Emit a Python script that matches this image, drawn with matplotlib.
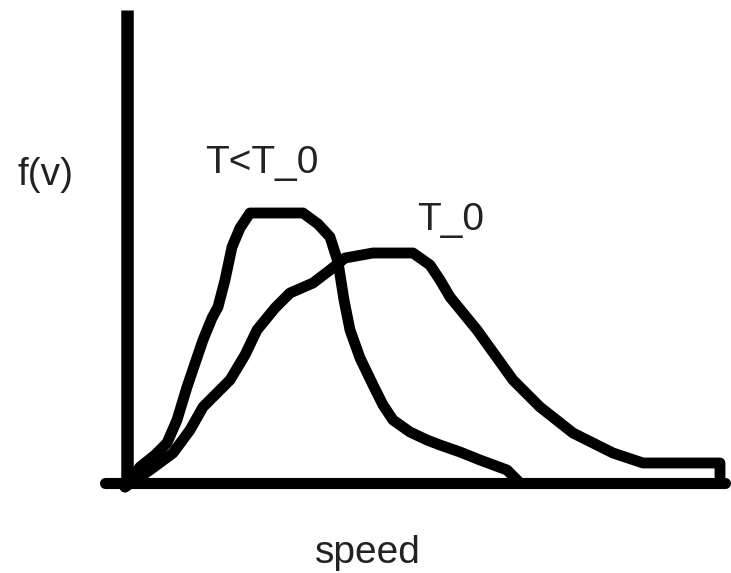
import matplotlib
matplotlib.use("Agg")
import matplotlib.pyplot as plt

# hand-drawn sketch, coordinates in picture units (y grows downwards)
axis_v_x = [127, 127]
axis_v_y = [10, 487]
axis_h_x = [105, 725]
axis_h_y = [483, 483]

# T < T_0 curve
cold_v = [125, 140, 155, 167, 177, 187, 203, 212, 218, 225, 232, 240, 250,
          303, 318, 330, 338, 344, 350, 360, 373, 383, 393, 410, 427, 440,
          460, 480, 507, 520]
cold_f = [487, 467, 455, 443, 420, 387, 340, 318, 307, 280, 247, 228, 213,
          213, 224, 237, 262, 300, 330, 358, 385, 405, 420, 432, 440, 445,
          452, 460, 470, 483]

# T_0 curve
warm_v = [125, 150, 173, 190, 203, 230, 245, 257, 275, 290, 313, 330, 345,
          373, 413, 430, 440, 450, 477, 513, 540, 573, 613, 643, 720, 720]
warm_f = [487, 470, 453, 430, 407, 380, 355, 330, 308, 293, 283, 270, 258,
          253, 253, 265, 280, 297, 330, 380, 407, 433, 453, 463, 463, 477]

fig = plt.figure(figsize=(7.31, 5.73), dpi=100)
ax = fig.add_axes([0, 0, 1, 1])
ax.set_xlim(0, 731)
ax.set_ylim(573, 0)
ax.axis("off")

ax.plot(axis_v_x, axis_v_y, color="black", lw=9, solid_capstyle="butt")
ax.plot(axis_h_x, axis_h_y, color="black", lw=8, solid_capstyle="round")
ax.plot(cold_v, cold_f, color="black", lw=7.8, solid_joinstyle="round", solid_capstyle="round")
ax.plot(warm_v, warm_f, color="black", lw=7.8, solid_joinstyle="round", solid_capstyle="round")

txt = dict(color="#222222", fontsize=28, family="Liberation Sans")
ax.text(45, 175, "f(v)", ha="center", va="center", **txt)
ax.text(262, 173, "T<T_0", ha="center", va="baseline", **txt)
ax.text(451, 230, "T_0", ha="center", va="baseline", **txt)
ax.text(368, 563, "speed", ha="center", va="baseline", **txt)

fig.savefig("out.png", dpi=100)
